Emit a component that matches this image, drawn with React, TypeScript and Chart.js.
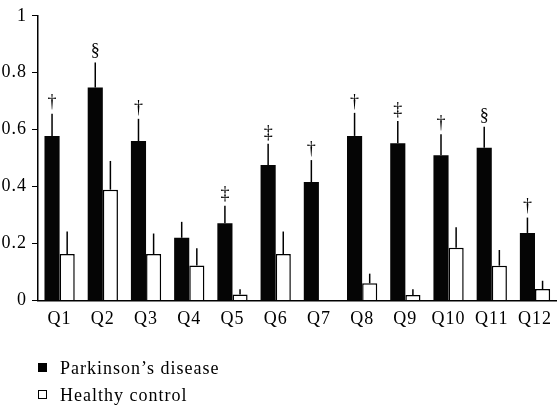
import React, { useEffect, useRef } from "react";
import { Chart, registerables } from "chart.js";

Chart.register(...registerables);

const categories = ["Q1", "Q2", "Q3", "Q4", "Q5", "Q6", "Q7", "Q8", "Q9", "Q10", "Q11", "Q12"];
const parkinsonMeans = [0.578, 0.748, 0.56, 0.22, 0.271, 0.476, 0.416, 0.578, 0.552, 0.51, 0.536, 0.237];
const parkinsonErrors = [0.078, 0.088, 0.078, 0.056, 0.062, 0.074, 0.077, 0.081, 0.078, 0.074, 0.074, 0.054];
const controlMeans = [0.163, 0.389, 0.163, 0.123, 0.021, 0.163, 0, 0.06, 0.019, 0.185, 0.122, 0.04];
const controlErrors = [0.079, 0.101, 0.072, 0.06, 0.018, 0.079, 0, 0.034, 0.02, 0.072, 0.055, 0.029];
const significance = ["†", "§", "†", "", "‡", "‡", "†", "†", "‡", "†", "§", "†"];
const seriesNames = ["Parkinson’s disease", "Healthy control"];

const FONT = "'Liberation Serif', 'Times New Roman', serif";
const SPACING = "1px";

const spacingPlugin = {
  id: "letterSpacing",
  beforeLayout(chart: any) {
    chart.ctx.letterSpacing = SPACING;
  },
  beforeDraw(chart: any) {
    chart.ctx.letterSpacing = SPACING;
  },
};

const errorBarPlugin = {
  id: "errorBars",
  afterDatasetsDraw(chart: any) {
    const ctx = chart.ctx;
    const yScale = chart.scales.y;
    const errs = [parkinsonErrors, controlErrors];
    const means = [parkinsonMeans, controlMeans];
    ctx.save();
    ctx.strokeStyle = "#000";
    ctx.lineWidth = 1.5;
    for (let d = 0; d < 2; d++) {
      const meta = chart.getDatasetMeta(d);
      meta.data.forEach((el: any, i: number) => {
        const e = errs[d][i];
        if (!e) return;
        const yTop = yScale.getPixelForValue(means[d][i] + e);
        ctx.beginPath();
        ctx.moveTo(el.x, el.y);
        ctx.lineTo(el.x, yTop);
        ctx.stroke();
      });
    }
    const meta0 = chart.getDatasetMeta(0);
    ctx.fillStyle = "#000";
    ctx.letterSpacing = "0px";
    ctx.font = `18px ${FONT}`;
    ctx.textAlign = "center";
    ctx.textBaseline = "bottom";
    meta0.data.forEach((el: any, i: number) => {
      const s = significance[i];
      if (!s) return;
      const yTop = yScale.getPixelForValue(parkinsonMeans[i] + parkinsonErrors[i]);
      ctx.fillText(s, el.x, yTop - 2);
    });
    ctx.restore();
  },
};

const legendPlugin = {
  id: "customLegend",
  afterDraw(chart: any) {
    const ctx = chart.ctx;
    const x0 = 38;
    const rows = [chart.height - 38, chart.height - 11];
    ctx.save();
    ctx.letterSpacing = SPACING;
    ctx.font = `18px ${FONT}`;
    ctx.textBaseline = "middle";
    ctx.textAlign = "left";
    rows.forEach((cy, i) => {
      if (i === 0) {
        ctx.fillStyle = "#000";
        ctx.fillRect(x0, cy - 5, 9, 9);
      } else {
        ctx.strokeStyle = "#000";
        ctx.lineWidth = 1;
        ctx.strokeRect(x0 + 0.5, cy - 4.5, 8, 8);
      }
      ctx.fillStyle = "#000";
      ctx.fillText(seriesNames[i], x0 + 22, cy + 1);
    });
    ctx.restore();
  },
};

export default function App() {
  const canvasRef = useRef<HTMLCanvasElement | null>(null);

  useEffect(() => {
    document.body.style.margin = "0";
    const canvas = canvasRef.current;
    if (!canvas) return;
    const chart = new Chart(canvas, {
      type: "bar",
      data: {
        labels: categories,
        datasets: [
          {
            label: seriesNames[0],
            data: parkinsonMeans,
            backgroundColor: "#050505",
            borderColor: "#050505",
            borderWidth: 0,
          },
          {
            label: seriesNames[1],
            data: controlMeans,
            backgroundColor: "#ffffff",
            borderColor: "#000000",
            borderWidth: 1.5,
          },
        ],
      },
      options: {
        responsive: false,
        animation: false,
        datasets: { bar: { categoryPercentage: 0.7, barPercentage: 1 } },
        layout: { padding: { top: 8, right: -4, bottom: 68, left: 0 } },
        plugins: {
          legend: { display: false },
          tooltip: { enabled: false },
        },
        scales: {
          x: {
            grid: { display: false, drawTicks: false },
            border: { display: true, color: "#000", width: 1.5 },
            ticks: { color: "#000", font: { family: FONT, size: 18 }, padding: 8, maxRotation: 0, autoSkip: false },
          },
          y: {
            min: 0,
            max: 1,
            afterFit(scale: any) {
              scale.width = 38;
            },
            grid: { display: true, drawOnChartArea: false, drawTicks: true, tickLength: 6, color: "#000" },
            border: { display: true, color: "#000", width: 1.5 },
            ticks: {
              stepSize: 0.2,
              color: "#000",
              font: { family: FONT, size: 18 },
              padding: 5,
              callback: (v: any) => String(Number(Number(v).toFixed(1))),
            },
          },
        },
      },
      plugins: [spacingPlugin, errorBarPlugin, legendPlugin],
    });
    return () => chart.destroy();
  }, []);

  return (
    <div style={{ width: 560, height: 406 }}>
      <canvas ref={canvasRef} width={560} height={406} style={{ display: "block" }} />
    </div>
  );
}
